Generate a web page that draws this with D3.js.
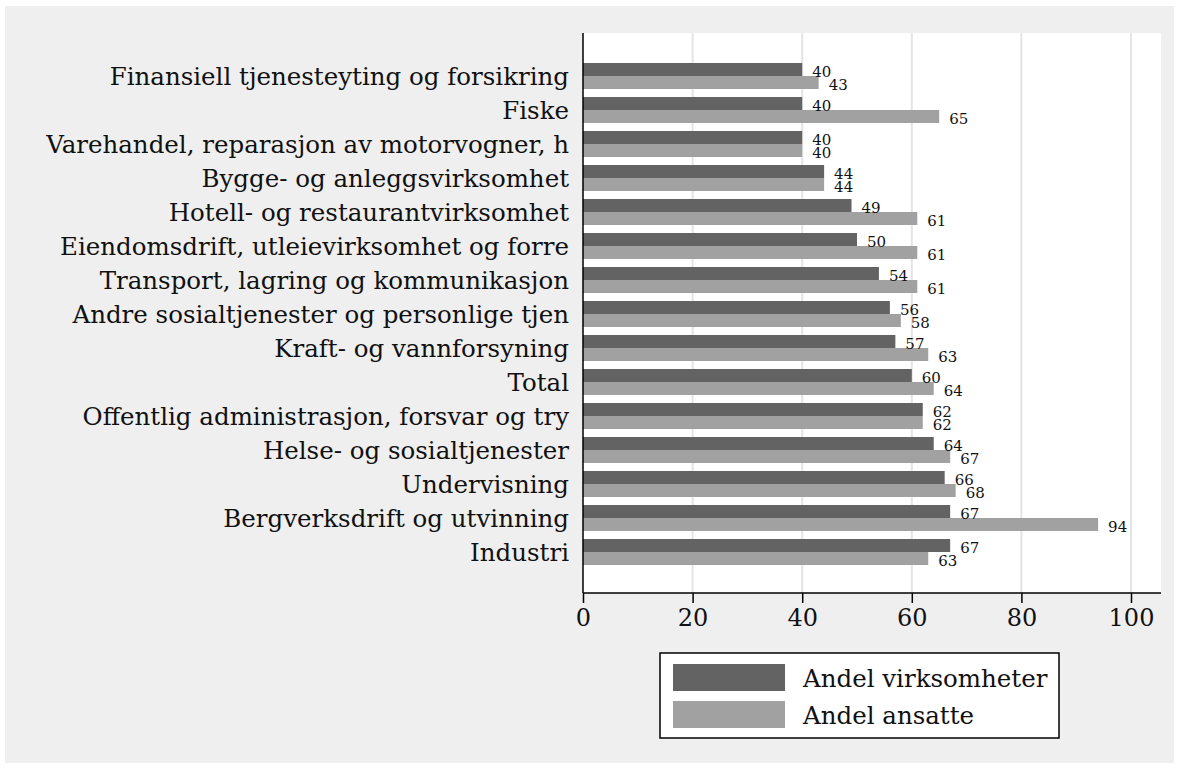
<!DOCTYPE html>
<html>
<head>
<meta charset="utf-8">
<script src="https://cdn.jsdelivr.net/npm/d3@7"></script>
<style>
	body { margin: 0; background: #ffffff; }
	svg text { font-family: "DejaVu Serif", serif; fill: #111; }
</style>
</head>
<body>
<div id="chart"></div>
<script>

// categories, top to bottom
var categories = [
	"Finansiell tjenesteyting og forsikring",
	"Fiske",
	"Varehandel, reparasjon av motorvogner, h",
	"Bygge- og anleggsvirksomhet",
	"Hotell- og restaurantvirksomhet",
	"Eiendomsdrift, utleievirksomhet og forre",
	"Transport, lagring og kommunikasjon",
	"Andre sosialtjenester og personlige tjen",
	"Kraft- og vannforsyning",
	"Total",
	"Offentlig administrasjon, forsvar og try",
	"Helse- og sosialtjenester",
	"Undervisning",
	"Bergverksdrift og utvinning",
	"Industri"
];

var andelVirksomheter = [40, 40, 40, 44, 49, 50, 54, 56, 57, 60, 62, 64, 66, 67, 67];
var andelAnsatte      = [43, 65, 40, 44, 61, 61, 61, 58, 63, 64, 62, 67, 68, 94, 63];

var seriesNames = ["Andel virksomheter", "Andel ansatte"];
var seriesColors = ["#636363", "#a1a1a1"];
var xTicks = [0, 20, 40, 60, 80, 100];

var width = 1187, height = 771;

var svg = d3.select("#chart").append("svg")
	.attr("width", width).attr("height", height);

// outer grey frame and white plot region
svg.append("rect")
	.attr("x", 5).attr("y", 6)
	.attr("width", 1169).attr("height", 757)
	.attr("fill", "#efefef");

var plot = { left: 583, right: 1161, top: 33, bottom: 593 };

svg.append("rect")
	.attr("x", plot.left).attr("y", plot.top)
	.attr("width", plot.right - plot.left).attr("height", plot.bottom - plot.top)
	.attr("fill", "#ffffff");

var x = d3.scaleLinear().domain([0, 100]).range([plot.left, 1131]);

var y = d3.scaleBand()
	.domain(categories)
	.range([63, 565])
	.paddingInner(8 / 34)
	.paddingOuter(0);

var ySub = d3.scaleBand()
	.domain([0, 1])
	.range([0, y.bandwidth()]);

// grid lines
svg.append("g").selectAll("line")
	.data(xTicks.filter(function(d){ return d > 0; }))
	.enter().append("line")
	.attr("x1", function(d){ return x(d); })
	.attr("x2", function(d){ return x(d); })
	.attr("y1", plot.top).attr("y2", plot.bottom)
	.attr("stroke", "#e4e4e4")
	.attr("stroke-width", 2);

// bars, one group per category
var rows = categories.map(function(c, i){
	return { name: c, values: [andelVirksomheter[i], andelAnsatte[i]] };
});

var groups = svg.append("g").selectAll("g")
	.data(rows)
	.enter().append("g")
	.attr("transform", function(d){ return "translate(0," + y(d.name) + ")"; });

groups.selectAll("rect")
	.data(function(d){ return d.values; })
	.enter().append("rect")
	.attr("x", x(0))
	.attr("y", function(d, i){ return ySub(i); })
	.attr("width", function(d){ return x(d) - x(0); })
	.attr("height", ySub.bandwidth())
	.attr("fill", function(d, i){ return seriesColors[i]; });

groups.selectAll("text")
	.data(function(d){ return d.values; })
	.enter().append("text")
	.attr("x", function(d){ return x(d) + 10; })
	.attr("y", function(d, i){ return ySub(i) + ySub.bandwidth() / 2 + 7; })
	.attr("font-size", "15px")
	.text(function(d){ return d; });

// category labels
svg.append("g").selectAll("text")
	.data(categories)
	.enter().append("text")
	.attr("x", 569)
	.attr("y", function(d){ return y(d) + y.bandwidth() / 2 + 9; })
	.attr("text-anchor", "end")
	.attr("font-size", "24.5px")
	.text(function(d){ return d; });

// axes
var xAxis = d3.axisBottom(x)
	.tickValues(xTicks)
	.tickSize(10)
	.tickPadding(6)
	.tickFormat(d3.format("d"));

var gX = svg.append("g")
	.attr("transform", "translate(0," + plot.bottom + ")")
	.call(xAxis);

gX.select(".domain").remove();
gX.selectAll(".tick line").attr("stroke", "#000").attr("stroke-width", 1.5);
gX.selectAll(".tick text")
	.attr("font-family", "DejaVu Serif, serif")
	.attr("font-size", "24px")
	.attr("fill", "#111");

svg.append("line")
	.attr("x1", plot.left).attr("x2", plot.right)
	.attr("y1", plot.bottom).attr("y2", plot.bottom)
	.attr("stroke", "#000").attr("stroke-width", 1.5);

svg.append("line")
	.attr("x1", plot.left).attr("x2", plot.left)
	.attr("y1", plot.top).attr("y2", plot.bottom)
	.attr("stroke", "#000").attr("stroke-width", 1.5);

// legend
var legend = svg.append("g").attr("transform", "translate(660,653)");

legend.append("rect")
	.attr("width", 399).attr("height", 85)
	.attr("fill", "#ffffff")
	.attr("stroke", "#000").attr("stroke-width", 1.5);

var legendItems = legend.selectAll(".item")
	.data(seriesNames)
	.enter().append("g")
	.attr("class", "item")
	.attr("transform", function(d, i){ return "translate(13," + (11 + i * 37) + ")"; });

legendItems.append("rect")
	.attr("width", 112).attr("height", 27)
	.attr("fill", function(d, i){ return seriesColors[i]; });

legendItems.append("text")
	.attr("x", 130).attr("y", 23)
	.attr("font-size", "24.5px")
	.text(function(d){ return d; });

</script>
</body>
</html>
